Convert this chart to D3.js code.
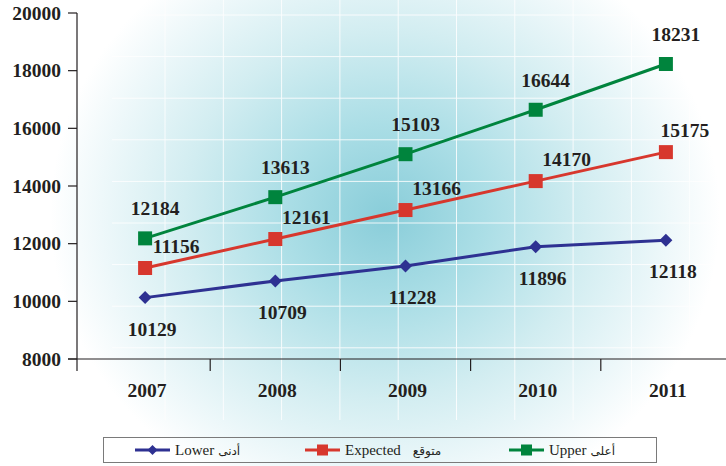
<!DOCTYPE html>
<html>
<head>
<meta charset="utf-8">
<script src="https://cdn.jsdelivr.net/npm/d3@7"></script>
<style>
  html, body { margin: 0; padding: 0; background: #ffffff; }
  svg { display: block; }
</style>
</head>
<body>
<svg id="chart" width="726" height="466"></svg>
<script>
// ---- data ----
const years = ["2007", "2008", "2009", "2010", "2011"];
const lowerValues = [10129, 10709, 11228, 11896, 12118];
const expectedValues = [11156, 12161, 13166, 14170, 15175];
const upperValues = [12184, 13613, 15103, 16644, 18231];
const yTicks = [8000, 10000, 12000, 14000, 16000, 18000, 20000];
const seriesNames = ["Lower", "Expected", "Upper"];
const seriesNamesAr = ["أدنى", "متوقع", "أعلى"];

// ---- setup ----
const svg = d3.select("#chart");
const W = 726, H = 466;
const textColor = "#231f20";
const serif = "'Liberation Serif', 'Times New Roman', serif";

// background radial glow
const defs = svg.append("defs");
const grad = defs.append("radialGradient").attr("id", "bg")
  .attr("cx", "50%").attr("cy", "50%").attr("r", "50%");
[[0, "#89cdd9"], [0.3, "#abdee6"], [0.6, "#d2edf1"], [0.85, "#eef8fa"], [1, "#ffffff"]]
  .forEach(([o, c]) => grad.append("stop").attr("offset", o).attr("stop-color", c));
svg.append("rect").attr("width", W).attr("height", H).attr("fill", "#ffffff");
svg.append("rect").attr("x", 50).attr("y", -90).attr("width", 670).attr("height", 610)
  .attr("fill", "url(#bg)");

// decorative white grid of the background
const deco = svg.append("g").attr("stroke", "#ffffff").attr("stroke-width", 1).attr("opacity", 0.85);
for (let i = 0; i < 9; i++) {
  const yy = 15 + i * 41.6;
  deco.append("line").attr("x1", 112).attr("x2", 720).attr("y1", yy).attr("y2", yy);
}
for (let i = 0; i < 10; i++) {
  const xx = 165 + i * 58.3;
  deco.append("line").attr("x1", xx).attr("x2", xx).attr("y1", 0).attr("y2", 420);
}

// ---- scales ----
const x = d3.scaleBand().domain(years).range([80, 731]).padding(0);
const xc = d => x(d) + x.bandwidth() / 2;
const y = d3.scaleLinear().domain([8000, 20000]).range([359, 13]);

// ---- axes ----
const axisG = svg.append("g").attr("stroke", "#231f20").attr("stroke-width", 1.2);
axisG.append("line").attr("x1", 77).attr("x2", 77).attr("y1", y(20000)).attr("y2", 371);
axisG.append("line").attr("x1", 68).attr("x2", W).attr("y1", y(8000)).attr("y2", y(8000));
yTicks.forEach(t => {
  axisG.append("line").attr("x1", 68).attr("x2", 77).attr("y1", y(t)).attr("y2", y(t));
});
years.slice(1).forEach(yr => {
  axisG.append("line").attr("x1", x(yr)).attr("x2", x(yr)).attr("y1", y(8000)).attr("y2", 371);
});

svg.append("g").selectAll("text").data(yTicks).join("text")
  .attr("x", 61).attr("y", d => y(d)).attr("dy", "0.34em")
  .attr("text-anchor", "end")
  .attr("font-family", serif).attr("font-weight", "bold").attr("font-size", 19.5)
  .attr("fill", textColor).text(d => d);

svg.append("g").selectAll("text").data(years).join("text")
  .attr("x", d => xc(d) + 2).attr("y", 397)
  .attr("text-anchor", "middle")
  .attr("font-family", serif).attr("font-weight", "bold").attr("font-size", 19.5)
  .attr("fill", textColor).text(d => d);

// ---- series ----
const series = [
  { name: "Lower", values: lowerValues, color: "#2e3192", shape: "diamond", ldx: 7, ldy: 38 },
  { name: "Expected", values: expectedValues, color: "#d7372d", shape: "square", ldx: 31, ldy: -15 },
  { name: "Upper", values: upperValues, color: "#00843d", shape: "square", ldx: 10, ldy: -23 }
];

const line = d3.line().x(d => xc(d.year)).y(d => y(d.value));

function drawMarker(g, shape, cx, cy, size, color) {
  if (shape === "square") {
    g.append("rect").attr("x", cx - size / 2).attr("y", cy - size / 2)
      .attr("width", size).attr("height", size).attr("fill", color);
  } else {
    const h = size / 2;
    g.append("path").attr("d", `M${cx},${cy - h}L${cx + h},${cy}L${cx},${cy + h}L${cx - h},${cy}Z`)
      .attr("fill", color);
  }
}

series.forEach(s => {
  const pts = years.map((yr, i) => ({ year: yr, value: s.values[i] }));
  const g = svg.append("g");
  g.append("path").datum(pts).attr("d", line)
    .attr("fill", "none").attr("stroke", s.color).attr("stroke-width", 3);
  pts.forEach(p => drawMarker(g, s.shape, xc(p.year), y(p.value), s.shape === "square" ? 14 : 13, s.color));
  g.selectAll("text.lbl").data(pts).join("text").attr("class", "lbl")
    .attr("x", (p, i) => xc(p.year) + (s.name === "Expected" && i === pts.length - 1 ? 19 : s.ldx))
    .attr("y", p => y(p.value) + s.ldy)
    .attr("text-anchor", "middle")
    .attr("font-family", serif).attr("font-weight", "bold").attr("font-size", 19.5)
    .attr("fill", textColor).text(p => p.value);
});

// ---- legend ----
const lg = svg.append("g");
lg.append("rect").attr("x", 103.5).attr("y", 437.5).attr("width", 553).attr("height", 25)
  .attr("fill", "none").attr("stroke", "#7a7a7a").attr("stroke-width", 1);
const legendX = [135, 305, 509];
series.forEach((s, i) => {
  const lx = legendX[i], ly = 450;
  lg.append("line").attr("x1", lx).attr("x2", lx + 35).attr("y1", ly).attr("y2", ly)
    .attr("stroke", s.color).attr("stroke-width", 3);
  drawMarker(lg, s.shape, lx + 17.5, ly, s.shape === "square" ? 11 : 10, s.color);
  const t = lg.append("text").attr("x", lx + 40).attr("y", ly + 5)
    .attr("font-family", serif).attr("font-size", 15).attr("fill", textColor)
    .text(seriesNames[i]);
  const tw = t.node().getComputedTextLength();
  lg.append("text").attr("x", lx + 40 + tw + (i === 1 ? 12 : 4)).attr("y", ly + 5)
    .attr("font-family", "'DejaVu Sans', sans-serif").attr("font-size", 12)
    .attr("fill", textColor).attr("direction", "ltr")
    .text(seriesNamesAr[i]);
});
</script>
</body>
</html>
